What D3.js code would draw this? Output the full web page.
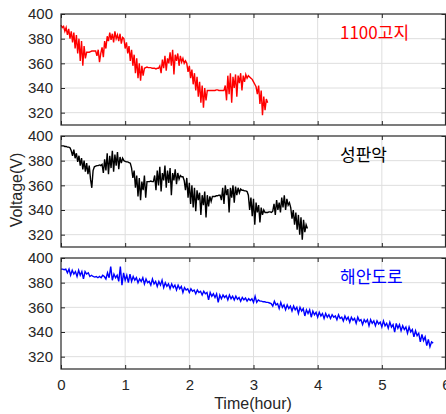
<!DOCTYPE html>
<html>
<head>
<meta charset="utf-8">
<title>Voltage</title>
<script src="https://d3js.org/d3.v7.min.js"></script>
<style>
  body { margin: 0; background: #fff; }
  .tick text { font-family: "Liberation Sans", Arial, sans-serif; font-size: 15px; fill: #262626; }
  .lbl { font-family: "Liberation Sans", Arial, sans-serif; font-size: 16px; fill: #262626; }
  .name { font-family: "Noto Sans CJK KR", sans-serif; font-size: 17px; }
</style>
</head>
<body>
<svg id="chart" width="446" height="414"></svg>
<script>
// sample step (hour) for each trace
var dtRed = 0.02, dtBlack = 0.02, dtBlue = 0.025;

var xTicks = [0, 1, 2, 3, 4, 5, 6];
var yTicks = [320, 340, 360, 380, 400];
var names = ["1100고지", "성판악", "해안도로"];
var colors = ["#ff0000", "#000000", "#0000ff"];

// 1100고지
var redV = [
  391, 389, 390, 386, 389, 383, 388, 380, 386, 377, 385, 372, 383, 368, 380, 362, 378, 358, 374, 364,
  369, 369, 369, 369.5, 370, 370, 370, 370,
  366, 371, 361, 368,
  373, 365, 378, 372, 382,
  378, 385, 379, 384, 377, 386, 380, 383, 378, 384, 376, 381,
  380, 372, 377, 368, 374, 362, 371, 358, 367, 352, 364, 348, 360, 346, 358, 350,
  356, 356.5, 357, 356.5, 356.5, 356.5, 356, 356, 356, 355.5, 356, 356,
  358, 352, 363, 356, 366, 354, 364, 360, 369, 358, 371, 351, 367, 362, 368, 358, 366, 361, 364, 360, 362,
  360, 353, 358, 348, 355, 343, 352, 338, 349, 333, 345, 328, 342, 324, 340, 330, 338,
  338, 338, 338, 338, 338, 338, 338.5, 338.5, 338, 338, 338, 338, 338,
  342, 330, 350, 335, 352, 328, 349, 340, 351, 333, 350, 344, 352, 338, 350, 345, 351, 348,
  350, 349, 348, 347, 345, 343, 341,
  335, 342, 327, 338, 318, 333, 322, 331, 328
];

// 성판악
var blackV = [
  392, 392, 392, 391.5, 391.5, 391, 391, 390.5,
  388, 384, 389, 382, 386, 379, 384, 376, 382, 373, 380, 371, 378, 369, 376, 365,
  358, 372,
  375, 375.5, 376, 376, 376.5, 376, 377,
  370, 381, 372, 386, 369, 384, 374, 388, 371, 385, 376, 387, 373, 383, 378, 382,
  380, 379.5, 379, 379, 378.5, 378,
  374, 366, 372, 358, 368, 351, 366, 348, 363, 356, 368, 350,
  363, 363, 363, 363.5, 363, 363,
  368, 356, 372, 360, 375, 355, 370, 364, 376, 358, 372, 362, 374, 352, 370, 364, 373, 361, 370, 365, 368, 367, 367,
  364, 356, 366, 350, 362, 345, 360, 342, 358, 339, 356, 348, 354, 336, 352, 344, 355, 334, 352, 343, 351, 347, 351,
  351, 351, 351.5, 351.5, 352, 352,
  348, 358, 345, 360, 352, 357, 338, 358, 350, 360, 346, 359, 352, 358, 354, 357,
  356, 356, 355.5, 355.5, 355,
  352, 340, 350, 335, 349, 328, 346, 338, 344, 330, 342, 336, 340, 338,
  338, 338, 338.5, 338.5, 338, 339,
  345, 336, 348, 340, 346, 338, 350, 342, 352, 340, 349, 344, 346,
  342, 333, 340, 328, 338, 324, 336, 320, 334, 316, 332, 322, 328, 325
];

// 해안도로
var blueV = [
  391, 391, 390.5, 391,  388, 391, 386, 390,  387, 389, 385, 390,  386, 389, 383, 389,
  387, 388, 385, 386,  385, 384.5, 385, 384,  385, 384, 386, 385,  383, 388, 384, 393,
  382, 387, 384, 386,  381, 393, 378, 388,  382, 386, 380, 387,  381, 385, 382, 384,
  380, 383, 381, 384,  379, 383, 380, 381,  378, 383, 379, 381,  377, 381, 378, 382,
  376, 380, 377, 379,  375, 379, 376, 378,  374, 378, 375, 377,  372, 376, 374, 375,
  372, 375, 373, 374,  371, 374, 372, 373,  370, 373, 371, 372,  366, 372, 369, 371,
  368, 371, 364, 370,  367, 370, 368, 369.5,  366, 370, 367, 369,  366, 369, 366.5, 368,
  365, 368, 366, 367.5,  365, 367, 365.5, 367,  364, 369, 364, 366,  365, 365, 364.5, 364.5,
  364, 364, 363.5, 363,  361, 365, 362, 363,  359, 364, 360, 362,  358, 362, 359, 361,
  357, 361, 358, 360,  355, 360, 357, 359,  353, 358, 355, 358,  352, 357, 354, 356,
  352, 356, 353, 355,  351, 355, 352, 354,  351, 354, 352, 353,  350, 354, 351, 352,
  349, 353, 350, 352,  348, 352, 349.5, 351,  347, 352, 349, 350,  346, 350, 348, 350,
  345, 350, 347, 349,  345, 349, 346.5, 348,  344, 349, 345, 347,  343, 348, 344, 346,
  340, 347, 343, 346,  341, 345, 342, 344,  339, 344, 340, 342,  336, 341, 337, 339,
  332, 338, 333, 336,  329, 334, 328, 332,  331
];

var series = [
  { v: redV, dt: dtRed },
  { v: blackV, dt: dtBlack },
  { v: blueV, dt: dtBlue }
];

var svg = d3.select("#chart");
var left = 61, right = 446;
var tops = [14, 136, 258], ph = 111;

var x = d3.scaleLinear().domain([0, 6]).range([left, right]);

series.forEach(function(s, k) {
  var top = tops[k];
  var y = d3.scaleLinear().domain([310, 400]).range([top + ph, top]);
  var g = svg.append("g");

  // grid
  g.selectAll(".gx").data(xTicks.slice(1, -1)).enter().append("line")
    .attr("x1", function(d) { return x(d); }).attr("x2", function(d) { return x(d); })
    .attr("y1", top).attr("y2", top + ph)
    .attr("stroke", "#dedede").attr("stroke-width", 1);
  g.selectAll(".gy").data(yTicks.slice(0, -1)).enter().append("line")
    .attr("x1", left).attr("x2", right)
    .attr("y1", function(d) { return y(d); }).attr("y2", function(d) { return y(d); })
    .attr("stroke", "#dedede").attr("stroke-width", 1);

  // trace
  var line = d3.line()
    .x(function(d, i) { return x(i * s.dt); })
    .y(function(d) { return y(d); });
  g.append("path").datum(s.v)
    .attr("d", line)
    .attr("fill", "none")
    .attr("stroke", colors[k])
    .attr("stroke-width", 1.4);

  // axes, ticks inside
  var yl = g.append("g").attr("transform", "translate(" + left + ",0)")
    .call(d3.axisLeft(y).tickValues(yTicks).tickSizeInner(-4).tickSizeOuter(0).tickPadding(8));
  var yr = g.append("g").attr("transform", "translate(" + (right - 0.5) + ",0)")
    .call(d3.axisRight(y).tickValues(yTicks).tickSizeInner(-4).tickSizeOuter(0).tickFormat(""));
  var xb = g.append("g").attr("transform", "translate(0," + (top + ph) + ")")
    .call(d3.axisBottom(x).tickValues(xTicks).tickSizeInner(-4).tickSizeOuter(0)
      .tickPadding(10).tickFormat(k == 2 ? d3.format("d") : ""));
  var xt = g.append("g").attr("transform", "translate(0," + top + ")")
    .call(d3.axisTop(x).tickValues(xTicks).tickSizeInner(-4).tickSizeOuter(0).tickFormat(""));
  [yl, yr, xb, xt].forEach(function(a) {
    a.selectAll("line").attr("stroke", "#262626");
    a.select(".domain").remove();
  });
  g.append("rect")
    .attr("x", left).attr("y", top)
    .attr("width", right - left - 0.5).attr("height", ph)
    .attr("fill", "none").attr("stroke", "#262626").attr("stroke-width", 1.2);

  g.append("text").attr("class", "name")
    .attr("x", 340).attr("y", top + 25)
    .attr("fill", colors[k])
    .text(names[k]);
});

svg.append("text").attr("class", "lbl")
  .attr("transform", "translate(22,190) rotate(-90)")
  .attr("text-anchor", "middle")
  .text("Voltage(V)");
svg.append("text").attr("class", "lbl")
  .attr("x", 253).attr("y", 409)
  .attr("text-anchor", "middle")
  .text("Time(hour)");
</script>
</body>
</html>
